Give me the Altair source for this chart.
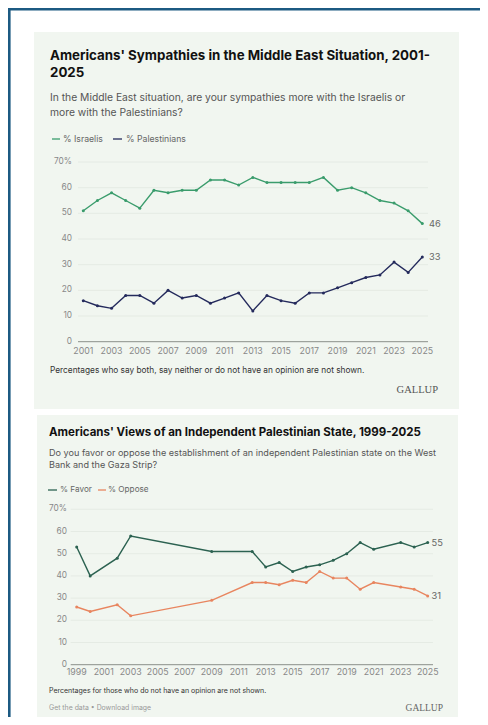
import altair as alt
import pandas as pd

# ---------------- data ----------------
years1 = list(range(2001, 2026))
israelis = [51, 55, 58, 55, 52, 59, 58, 59, 59, 63, 63, 61, 64, 62, 62, 62, 62, 64, 59, 60, 58, 55, 54, 51, 46]
palestinians = [16, 14, 13, 18, 18, 15, 20, 17, 18, 15, 17, 19, 12, 18, 16, 15, 19, 19, 21, 23, 25, 26, 31, 27, 33]

years2 = [1999, 2000, 2002, 2003, 2009, 2012, 2013, 2014, 2015, 2016, 2017, 2018, 2019, 2020, 2021, 2023, 2024, 2025]
favor = [53, 40, 48, 58, 51, 51, 44, 46, 42, 44, 45, 47, 50, 55, 52, 55, 53, 55]
oppose = [26, 24, 27, 22, 29, 37, 37, 36, 38, 37, 42, 39, 39, 34, 37, 35, 34, 31]

y_ticks = [0, 10, 20, 30, 40, 50, 60, 70]
x_ticks1 = list(range(2001, 2026, 2))
x_ticks2 = list(range(1999, 2026, 2))

series1 = ["% Israelis", "% Palestinians"]
colors1 = ["#3a9c6c", "#242a5c"]
series2 = ["% Favor", "% Oppose"]
colors2 = ["#2c6251", "#e8855f"]

FONT = "Inter"
W, H = 472, 709

one = pd.DataFrame({"a": [0]})


def txt(text, x, y, size, color="#333", weight="normal", align="left", font=FONT, baseline="alphabetic"):
    return alt.Chart(one).mark_text(
        text=text, fontSize=size, color=color, fontWeight=weight, align=align,
        baseline=baseline, font=font
    ).encode(x=alt.value(x), y=alt.value(y))


def box(x, x2, y, y2, color):
    return alt.Chart(one).mark_rect(color=color).encode(
        x=alt.value(x), x2=alt.value(x2), y=alt.value(y), y2=alt.value(y2))


def seg(x, x2, y, color):
    return alt.Chart(one).mark_rule(color=color, strokeWidth=1.3).encode(
        x=alt.value(x), x2=alt.value(x2), y=alt.value(y))


def panel(years, a, b, names, cols, xticks, xr, yr, gx, ylab_x, xlab_y, endx):
    xs = alt.Scale(domain=[xticks[0], 2025], range=xr, nice=False, zero=False)
    ys = alt.Scale(domain=[0, 70], range=yr, nice=False, zero=False)
    cs = alt.Scale(domain=names, range=cols)
    df = pd.DataFrame({
        "year": years + years,
        "value": a + b,
        "series": [names[0]] * len(years) + [names[1]] * len(years),
    })
    grid_df = pd.DataFrame({"v": y_ticks[1:]})
    base_df = pd.DataFrame({"v": [0]})
    ylab_df = pd.DataFrame({"v": y_ticks, "lab": [("70%" if v == 70 else str(v)) for v in y_ticks]})
    xlab_df = pd.DataFrame({"yr": xticks, "lab": [str(t) for t in xticks]})
    end_df = df[df["year"] == 2025]

    grid = alt.Chart(grid_df).mark_rule(color="#e2e8e1", strokeWidth=0.8).encode(
        y=alt.Y("v:Q", scale=ys, axis=None), x=alt.value(gx[0]), x2=alt.value(gx[1]))
    base = alt.Chart(base_df).mark_rule(color="#8a8f8a", strokeWidth=1).encode(
        y=alt.Y("v:Q", scale=ys, axis=None), x=alt.value(gx[0]), x2=alt.value(gx[1]))
    ylab = alt.Chart(ylab_df).mark_text(align="right", baseline="middle", fontSize=8.3, color="#888", font=FONT).encode(
        y=alt.Y("v:Q", scale=ys, axis=None), x=alt.value(ylab_x), text="lab:N")
    xlab = alt.Chart(xlab_df).mark_text(align="center", baseline="middle", fontSize=8.8, color="#888", font=FONT).encode(
        x=alt.X("yr:Q", scale=xs, axis=None), y=alt.value(xlab_y), text="lab:N")
    lines = alt.Chart(df).mark_line(strokeWidth=1.4).encode(
        x=alt.X("year:Q", scale=xs, axis=None),
        y=alt.Y("value:Q", scale=ys, axis=None),
        color=alt.Color("series:N", scale=cs, legend=None),
        detail="series:N")
    pts = alt.Chart(df).mark_circle(size=9, opacity=1).encode(
        x=alt.X("year:Q", scale=xs, axis=None),
        y=alt.Y("value:Q", scale=ys, axis=None),
        color=alt.Color("series:N", scale=cs, legend=None))
    ends = alt.Chart(end_df).mark_text(align="left", baseline="middle", fontSize=9.3, color="#666", font=FONT).encode(
        x=alt.value(endx), y=alt.Y("value:Q", scale=ys, axis=None), text="value:Q")
    return alt.layer(grid, base, ylab, xlab, lines, pts, ends)


p1 = panel(years1, israelis, palestinians, series1, colors1, x_ticks1,
           [75.3, 414.3], [333.7, 154.0], (70, 420), 64, 342.7, 421)
p2 = panel(years2, favor, oppose, series2, colors2, x_ticks2,
           [68.7, 419.7], [656.7, 501.3], (62.7, 425), 59, 664.3, 423.5)

decor = [
    box(0, W, 0, H, "#ffffff"),
    box(0, 2.6, 0, H, "#1c5a82"),
    box(0, W, 0, 2.6, "#1c5a82"),
    box(26, 451, 24, 401, "#f1f6f0"),
    box(29, 450, 407, 713, "#f1f6f0"),
    # panel 1 text
    txt("Americans' Sympathies in the Middle East Situation, 2001-", 42, 52, 13.3, "#111", "bold"),
    txt("2025", 42, 69, 13.3, "#111", "bold"),
    txt("In the Middle East situation, are your sympathies more with the Israelis or", 42, 93, 10.3, "#555"),
    txt("more with the Palestinians?", 42, 108, 10.3, "#555"),
    seg(44, 52, 131, colors1[0]),
    txt("% Israelis", 55, 131, 8.7, "#666", baseline="middle"),
    seg(105, 114, 131, colors1[1]),
    txt("% Palestinians", 118, 131, 8.7, "#666", baseline="middle"),
    txt("Percentages who say both, say neither or do not have an opinion are not shown.", 42, 363, 8.3, "#333", baseline="middle"),
    txt("GALLUP", 430, 382, 10.5, "#555", align="right", font="Liberation Serif", baseline="middle"),
    # panel 2 text
    txt("Americans' Views of an Independent Palestinian State, 1999-2025", 41, 428, 11.5, "#111", "bold"),
    txt("Do you favor or oppose the establishment of an independent Palestinian state on the West", 41, 448, 9.1, "#555"),
    txt("Bank and the Gaza Strip?", 41, 460, 9.1, "#555"),
    seg(40, 49, 482, colors2[0]),
    txt("% Favor", 52, 482, 8.2, "#666", baseline="middle"),
    seg(90, 98, 482, colors2[1]),
    txt("% Oppose", 100, 482, 8.2, "#666", baseline="middle"),
    txt("Percentages for those who do not have an opinion are not shown.", 41, 682.7, 7.0, "#333", baseline="middle"),
    txt("Get the data \u2022 Download image", 41, 700, 6.9, "#999", baseline="middle"),
    txt("GALLUP", 435, 700, 9.5, "#666", align="right", font="Liberation Serif", baseline="middle"),
]

chart = alt.layer(*decor, p1, p2).resolve_scale(
    x="independent", y="independent", color="independent"
).properties(
    width=W, height=H, autosize=alt.AutoSizeParams(type="none"), padding=0,
    background="#ffffff"
).configure_view(stroke=None)

chart.save("out.html", embed_options={"renderer": "svg", "actions": False})
